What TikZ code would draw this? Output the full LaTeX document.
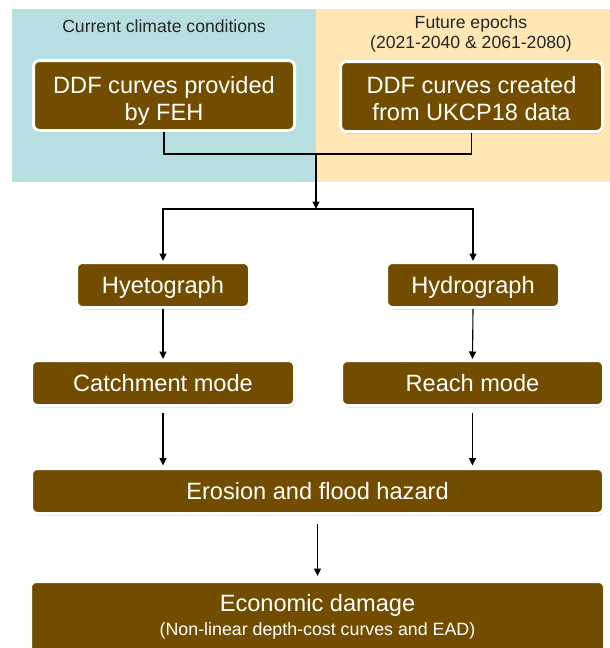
\documentclass[tikz,border=0pt]{standalone}
\usepackage{fontspec}
\setmainfont{Liberation Sans}
\usetikzlibrary{arrows.meta,shadows}
\definecolor{boxbrown}{RGB}{114,77,0}
\definecolor{curblue}{RGB}{183,223,226}
\definecolor{futorange}{RGB}{255,230,180}
\definecolor{paneltext}{RGB}{38,38,38}

\begin{document}
\begin{tikzpicture}[x=1pt, y=-1pt,
  brownbox/.style={fill=boxbrown, draw=white, line width=3pt, rounded corners=6pt, text=white, align=center, inner sep=0pt, font=\fontsize{23.6}{27.3}\selectfont, text height=16.9pt, text depth=0pt, drop shadow={shadow xshift=1pt, shadow yshift=-2pt, opacity=0.3}},
  paneltitle/.style={font=\fontsize{17.6}{20.3}\selectfont, align=center, inner sep=0pt, text height=12.6pt, text depth=0pt},
  flow/.style={draw=black, line width=1.1pt, -{Triangle[length=7.5pt, width=7pt]}},
  joinline/.style={draw=black, line width=1.1pt}]
\useasboundingbox (0,0) rectangle (610,648);
\fill[curblue] (12,9) rectangle (316,182);
\fill[futorange] (316,9) rectangle (610,182);
\node[paneltitle] (TCur) at (164,25.7) {\textcolor{paneltext}{Current climate conditions}};
\node[paneltitle, text height=32.9pt] (TFut) at (471,31.9) {\textcolor{paneltext}{Future epochs}\\\textcolor{paneltext}{(2021-2040 \& 2061-2080)}};
\node[brownbox, minimum width=261pt, minimum height=70pt, text height=50.4pt] (BFEH) at (164,95.5) {DDF curves provided\\by FEH};
\node[brownbox, minimum width=262pt, minimum height=70pt, text height=48.4pt] (BUKCP) at (471.5,96.5) {DDF curves created\\from UKCP18 data};
\node[brownbox, minimum width=173pt, minimum height=45pt] (BHyeto) at (163,285) {Hyetograph};
\node[brownbox, minimum width=173pt, minimum height=45pt] (BHydro) at (473,285) {Hydrograph};
\node[brownbox, minimum width=263pt, minimum height=45pt] (BCatch) at (163,383) {Catchment mode};
\node[brownbox, minimum width=262pt, minimum height=45pt] (BReach) at (472.5,383) {Reach mode};
\node[brownbox, minimum width=572pt, minimum height=45pt] (BHazard) at (317.5,491) {Erosion and flood hazard};
\node[brownbox, minimum width=574pt, minimum height=86pt, font=\fontsize{23.6}{24}\selectfont, text height=21.6pt] (BDamage) at (317.5,624.5) {Economic damage\\{\fontsize{17.8}{24}\selectfont (Non-linear depth-cost curves and EAD)}};
\coordinate (join) at (316,154);
\coordinate (split) at (316,209);
\draw[joinline] (BFEH.south) |- (join);
\draw[joinline] (BUKCP.south) |- (join);
\draw[flow] (join) -- (split);
\draw[flow] (split) -| (BHyeto.north);
\draw[flow] (split) -| (BHydro.north);
\draw[flow] (BHyeto.south) -- (BCatch.north);
\draw[flow] (BHydro.south) -- (BReach.north);
\draw[flow, shorten <=6pt, shorten >=1.5pt] (BCatch.south) -- (BCatch.south |- BHazard.north);
\draw[flow, shorten <=6pt, shorten >=1.5pt] (BReach.south) -- (BReach.south |- BHazard.north);
\draw[flow, shorten <=9pt, shorten >=4pt] (BHazard.south) -- (BDamage.north);
\end{tikzpicture}
\end{document}
